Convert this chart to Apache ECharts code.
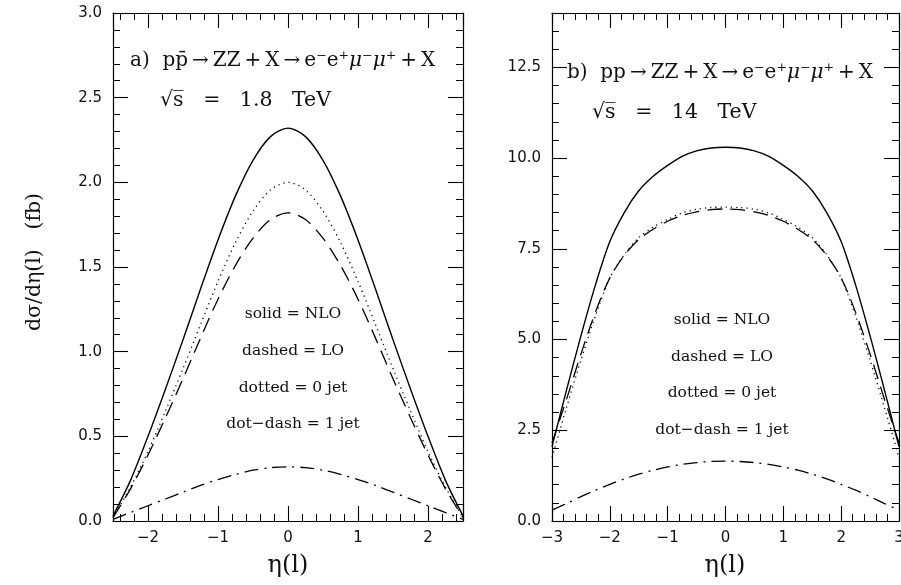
<!DOCTYPE html>
<html>
<head>
<meta charset="utf-8">
<script src="https://cdn.jsdelivr.net/npm/echarts@6/dist/echarts.min.js"></script>
<style>
  html, body { margin: 0; padding: 0; background: #fff; }
  #chart { width: 901px; height: 585px; }
</style>
</head>
<body>
<div id="chart"></div>
<script>
// ---- panel a) p pbar at sqrt(s) = 1.8 TeV ----
const etaA = [-2.5, -2.25, -2, -1.75, -1.5, -1.25, -1, -0.75, -0.5, -0.25, 0,
              0.25, 0.5, 0.75, 1, 1.25, 1.5, 1.75, 2, 2.25, 2.5];
const nloA  = [0.03, 0.24, 0.50, 0.78, 1.07, 1.37, 1.66, 1.92, 2.13, 2.27, 2.32,
               2.27, 2.13, 1.92, 1.66, 1.37, 1.07, 0.78, 0.50, 0.24, 0.03];
const loA   = [0.02, 0.19, 0.39, 0.61, 0.84, 1.08, 1.31, 1.51, 1.67, 1.78, 1.82,
               1.78, 1.67, 1.51, 1.31, 1.08, 0.84, 0.61, 0.39, 0.19, 0.02];
const jet0A = [0.02, 0.20, 0.41, 0.65, 0.90, 1.16, 1.415, 1.645, 1.83, 1.955, 2.00,
               1.955, 1.83, 1.645, 1.415, 1.16, 0.90, 0.65, 0.41, 0.20, 0.02];
const jet1A = [0.01, 0.05, 0.09, 0.13, 0.17, 0.21, 0.245, 0.275, 0.30, 0.315, 0.32,
               0.315, 0.30, 0.275, 0.245, 0.21, 0.17, 0.13, 0.09, 0.05, 0.01];

// ---- panel b) p p at sqrt(s) = 14 TeV ----
const etaB = [-3, -2.75, -2.5, -2.25, -2, -1.75, -1.5, -1.25, -1, -0.75, -0.5, -0.25, 0,
              0.25, 0.5, 0.75, 1, 1.25, 1.5, 1.75, 2, 2.25, 2.5, 2.75, 3];
const nloB  = [2.05, 3.60, 5.10, 6.50, 7.70, 8.50, 9.10, 9.50, 9.80, 10.05, 10.20, 10.28, 10.30,
               10.28, 10.20, 10.05, 9.80, 9.50, 9.10, 8.50, 7.70, 6.50, 5.10, 3.60, 2.05];
const loB   = [2.15, 3.35, 4.60, 5.75, 6.70, 7.32, 7.76, 8.04, 8.26, 8.42, 8.52, 8.58, 8.60,
               8.58, 8.52, 8.42, 8.26, 8.04, 7.76, 7.32, 6.70, 5.75, 4.60, 3.35, 2.15];
const jet0B = [1.75, 3.12, 4.43, 5.65, 6.69, 7.34, 7.81, 8.10, 8.31, 8.49, 8.59, 8.64, 8.65,
               8.64, 8.59, 8.49, 8.31, 8.10, 7.81, 7.34, 6.69, 5.65, 4.43, 3.12, 1.75];
const jet1B = [0.30, 0.48, 0.67, 0.85, 1.01, 1.16, 1.29, 1.40, 1.49, 1.56, 1.61, 1.64, 1.65,
               1.64, 1.61, 1.56, 1.49, 1.40, 1.29, 1.16, 1.01, 0.85, 0.67, 0.48, 0.30];

// axis ranges and tick steps
const xRangeA = [-2.5, 2.5];
const yRangeA = [0, 3];
const yStepA = 0.5;
const xRangeB = [-3, 3];
const xStepB = 1;
const yRangeB = [0, 14];
const yStepB = 2.5;

const legendLines = ['solid = NLO', 'dashed = LO', 'dotted = 0 jet', 'dot\u2212dash = 1 jet'];

const BLACK = '#000';
const TICK_FONT = 'DejaVu Sans';
const SERIF = 'DejaVu Serif';
const TS = '\u2009'; // thin space around operators

function pairs(xs, ys) { return xs.map((x, i) => [x, ys[i]]); }
const minus = s => String(s).replace('-', '\u2212');

function axisBase(extra) {
  return Object.assign({
    type: 'value',
    scale: false,
    axisLine: { show: true, onZero: false, lineStyle: { color: BLACK, width: 1.2 } },
    axisTick: { show: true, inside: true, length: 15, lineStyle: { color: BLACK, width: 1.1 } },
    minorTick: { show: true, splitNumber: 5, length: 7, lineStyle: { color: BLACK, width: 1 } },
    splitLine: { show: false },
    minorSplitLine: { show: false }
  }, extra);
}

const xLabel = {
  show: true, margin: 10, color: '#111',
  fontFamily: TICK_FONT, fontSize: 15,
  formatter: v => Number.isInteger(v) ? minus(v) : ''
};
function yLabel(step) {
  return {
    show: true, margin: 11, color: '#111',
    fontFamily: TICK_FONT, fontSize: 15,
    formatter: v => (Math.abs(v / step - Math.round(v / step)) < 1e-6) ? minus(v.toFixed(1)) : ''
  };
}

const xAxes = [
  axisBase({ gridIndex: 0, position: 'bottom', min: xRangeA[0], max: xRangeA[1], splitNumber: 5, axisLabel: xLabel }),
  axisBase({ gridIndex: 0, position: 'top', min: xRangeA[0], max: xRangeA[1], splitNumber: 5, axisLabel: { show: false } }),
  axisBase({ gridIndex: 1, position: 'bottom', min: xRangeB[0], max: xRangeB[1], interval: xStepB, axisLabel: xLabel }),
  axisBase({ gridIndex: 1, position: 'top', min: xRangeB[0], max: xRangeB[1], interval: xStepB, axisLabel: { show: false } })
];
const yAxes = [
  axisBase({ gridIndex: 0, position: 'left', min: yRangeA[0], max: yRangeA[1], interval: yStepA, axisLabel: yLabel(yStepA) }),
  axisBase({ gridIndex: 0, position: 'right', min: yRangeA[0], max: yRangeA[1], interval: yStepA, axisLabel: { show: false } }),
  axisBase({ gridIndex: 1, position: 'left', min: yRangeB[0], max: yRangeB[1], interval: yStepB, axisLabel: yLabel(yStepB) }),
  axisBase({ gridIndex: 1, position: 'right', min: yRangeB[0], max: yRangeB[1], interval: yStepB, axisLabel: { show: false } })
];

const styles = {
  nlo:  { type: 'solid', width: 1.4 },
  lo:   { type: [15, 8], width: 1.3 },
  jet0: { type: [1.2, 4], width: 1.3 },
  jet1: { type: [14, 6, 2, 6], width: 1.3 }
};

function curve(name, xs, ys, axis, style) {
  return {
    name, type: 'line', smooth: 0.3, showSymbol: false, symbol: 'none',
    xAxisIndex: axis, yAxisIndex: axis,
    data: pairs(xs, ys),
    lineStyle: Object.assign({ color: BLACK }, style),
    z: 3, silent: true
  };
}

const series = [
  curve('NLO a', etaA, nloA, 0, styles.nlo),
  curve('LO a', etaA, loA, 0, styles.lo),
  curve('0 jet a', etaA, jet0A, 0, styles.jet0),
  curve('1 jet a', etaA, jet1A, 0, styles.jet1),
  curve('NLO b', etaB, nloB, 2, styles.nlo),
  curve('LO b', etaB, loB, 2, styles.lo),
  curve('0 jet b', etaB, jet0B, 2, styles.jet0),
  curve('1 jet b', etaB, jet1B, 2, styles.jet1)
];

function txt(x, y, text, size, opts) {
  return Object.assign({
    type: 'text', x, y, z: 10, silent: true,
    style: Object.assign({
      text, fill: '#111',
      font: size + 'px "' + SERIF + '"',
      align: 'left', verticalAlign: 'middle'
    }, (opts && opts.style) || {})
  }, opts && opts.rotation !== undefined ? { rotation: opts.rotation } : {});
}

// italic mu inside the process labels
const muRich = { m: { fontFamily: SERIF, fontSize: 20, fontStyle: 'italic', fill: '#111' } };
const process = 'ZZ' + TS + '+' + TS + 'X' + TS + '\u2192' + TS +
  'e\u207Be\u207A{m|\u03BC}\u207B{m|\u03BC}\u207A' + TS + '+' + TS + 'X';
const graphics = [
  txt(130, 61, 'a)  pp\u0304' + TS + '\u2192' + TS + process, 20, { style: { rich: muRich } }),
  txt(160, 101, '\u221As\u0305   =   1.8   TeV', 20.5),
  txt(567, 73, 'b)  pp' + TS + '\u2192' + TS + process, 20, { style: { rich: muRich } }),
  txt(592, 113, '\u221As\u0305   =   14   TeV', 20.5),
  txt(35, 262, 'd\u03C3/d\u03B7(l)   (fb)', 20.5, { rotation: Math.PI / 2, style: { align: 'center' } }),
  txt(288, 566, '\u03B7(l)', 24, { style: { align: 'center' } }),
  txt(725, 566, '\u03B7(l)', 24, { style: { align: 'center' } })
];
const legendYA = [314, 351, 388, 424];
const legendYB = [320, 357, 393, 430];
legendLines.forEach((t, i) => {
  graphics.push(txt(293, legendYA[i], t, 15.5, { style: { align: 'center' } }));
  graphics.push(txt(722, legendYB[i], t, 15.5, { style: { align: 'center' } }));
});

const chart = echarts.init(document.getElementById('chart'), null, { renderer: 'canvas' });
chart.setOption({
  animation: false,
  backgroundColor: '#fff',
  grid: [
    { left: 113, top: 13, width: 350, height: 508, containLabel: false, outerBoundsMode: 'none' },
    { left: 552, top: 13, width: 347, height: 508, containLabel: false, outerBoundsMode: 'none' }
  ],
  xAxis: xAxes,
  yAxis: yAxes,
  series,
  graphic: graphics
});
</script>
</body>
</html>
